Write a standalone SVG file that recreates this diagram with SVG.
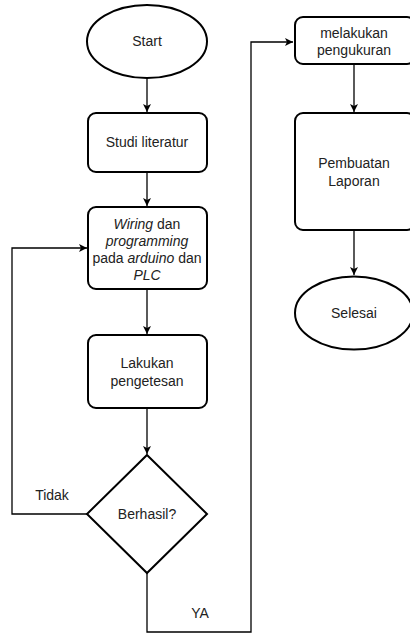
<svg xmlns="http://www.w3.org/2000/svg" width="410" height="633" viewBox="0 0 410 633">
<defs>
<style>
.shape{fill:#fff;stroke:#000;stroke-width:2}
.line{fill:none;stroke:#000;stroke-width:1.3}
text{font-family:"Liberation Sans",Arial,sans-serif;font-size:14px;fill:#222;text-anchor:middle}
.i{font-style:italic}
</style>
<marker id="arr" markerWidth="10" markerHeight="10" refX="8" refY="4" orient="auto" markerUnits="userSpaceOnUse">
<path d="M0,0 L8,4 L0,8 L2,4 Z" fill="#000"/>
</marker>
</defs>
<rect width="410" height="633" fill="#fff"/>
<g id="connectors">
<line class="line" x1="147" y1="78" x2="147" y2="112" marker-end="url(#arr)"/>
<line class="line" x1="147" y1="172" x2="147" y2="206" marker-end="url(#arr)"/>
<line class="line" x1="147" y1="289" x2="147" y2="334" marker-end="url(#arr)"/>
<line class="line" x1="147" y1="408" x2="147" y2="454" marker-end="url(#arr)"/>
<polyline class="line" points="87,514 12,514 12,248 87,248" marker-end="url(#arr)"/>
<polyline class="line" points="147,573 147,632 251,632 251,42 293,42" marker-end="url(#arr)"/>
<line class="line" x1="354" y1="64" x2="354" y2="112" marker-end="url(#arr)"/>
<line class="line" x1="354" y1="230" x2="354" y2="275" marker-end="url(#arr)"/>
<text x="52" y="500">Tidak</text>
<text x="200" y="618">YA</text>
</g>
<g id="start">
<ellipse class="shape" cx="147" cy="41.5" rx="60" ry="36.5"/>
<text x="147" y="46">Start</text>
</g>
<g id="studi">
<rect class="shape" x="88" y="113" width="119" height="59" rx="8"/>
<text x="147" y="147">Studi literatur</text>
</g>
<g id="wiring">
<rect class="shape" x="88" y="207" width="119" height="82" rx="8"/>
<text x="147" y="229"><tspan class="i">Wiring</tspan> dan</text>
<text x="147" y="246" class="i">programming</text>
<text x="147" y="263">pada <tspan class="i">arduino</tspan> dan</text>
<text x="147" y="280" class="i">PLC</text>
</g>
<g id="lakukan">
<rect class="shape" x="88" y="335" width="119" height="73" rx="8"/>
<text x="147" y="368">Lakukan</text>
<text x="147" y="386">pengetesan</text>
</g>
<g id="berhasil">
<polygon class="shape" points="147,455 207,514 147,573 87,514"/>
<text x="147" y="519">Berhasil?</text>
</g>
<g id="melakukan">
<rect class="shape" x="295" y="17" width="120" height="47" rx="8"/>
<text x="354" y="38">melakukan</text>
<text x="354" y="55">pengukuran</text>
</g>
<g id="pembuatan">
<rect class="shape" x="295" y="113" width="120" height="117" rx="8"/>
<text x="354" y="168">Pembuatan</text>
<text x="354" y="186">Laporan</text>
</g>
<g id="selesai">
<ellipse class="shape" cx="354" cy="313" rx="59" ry="36.5"/>
<text x="354" y="318">Selesai</text>
</g>
</svg>
